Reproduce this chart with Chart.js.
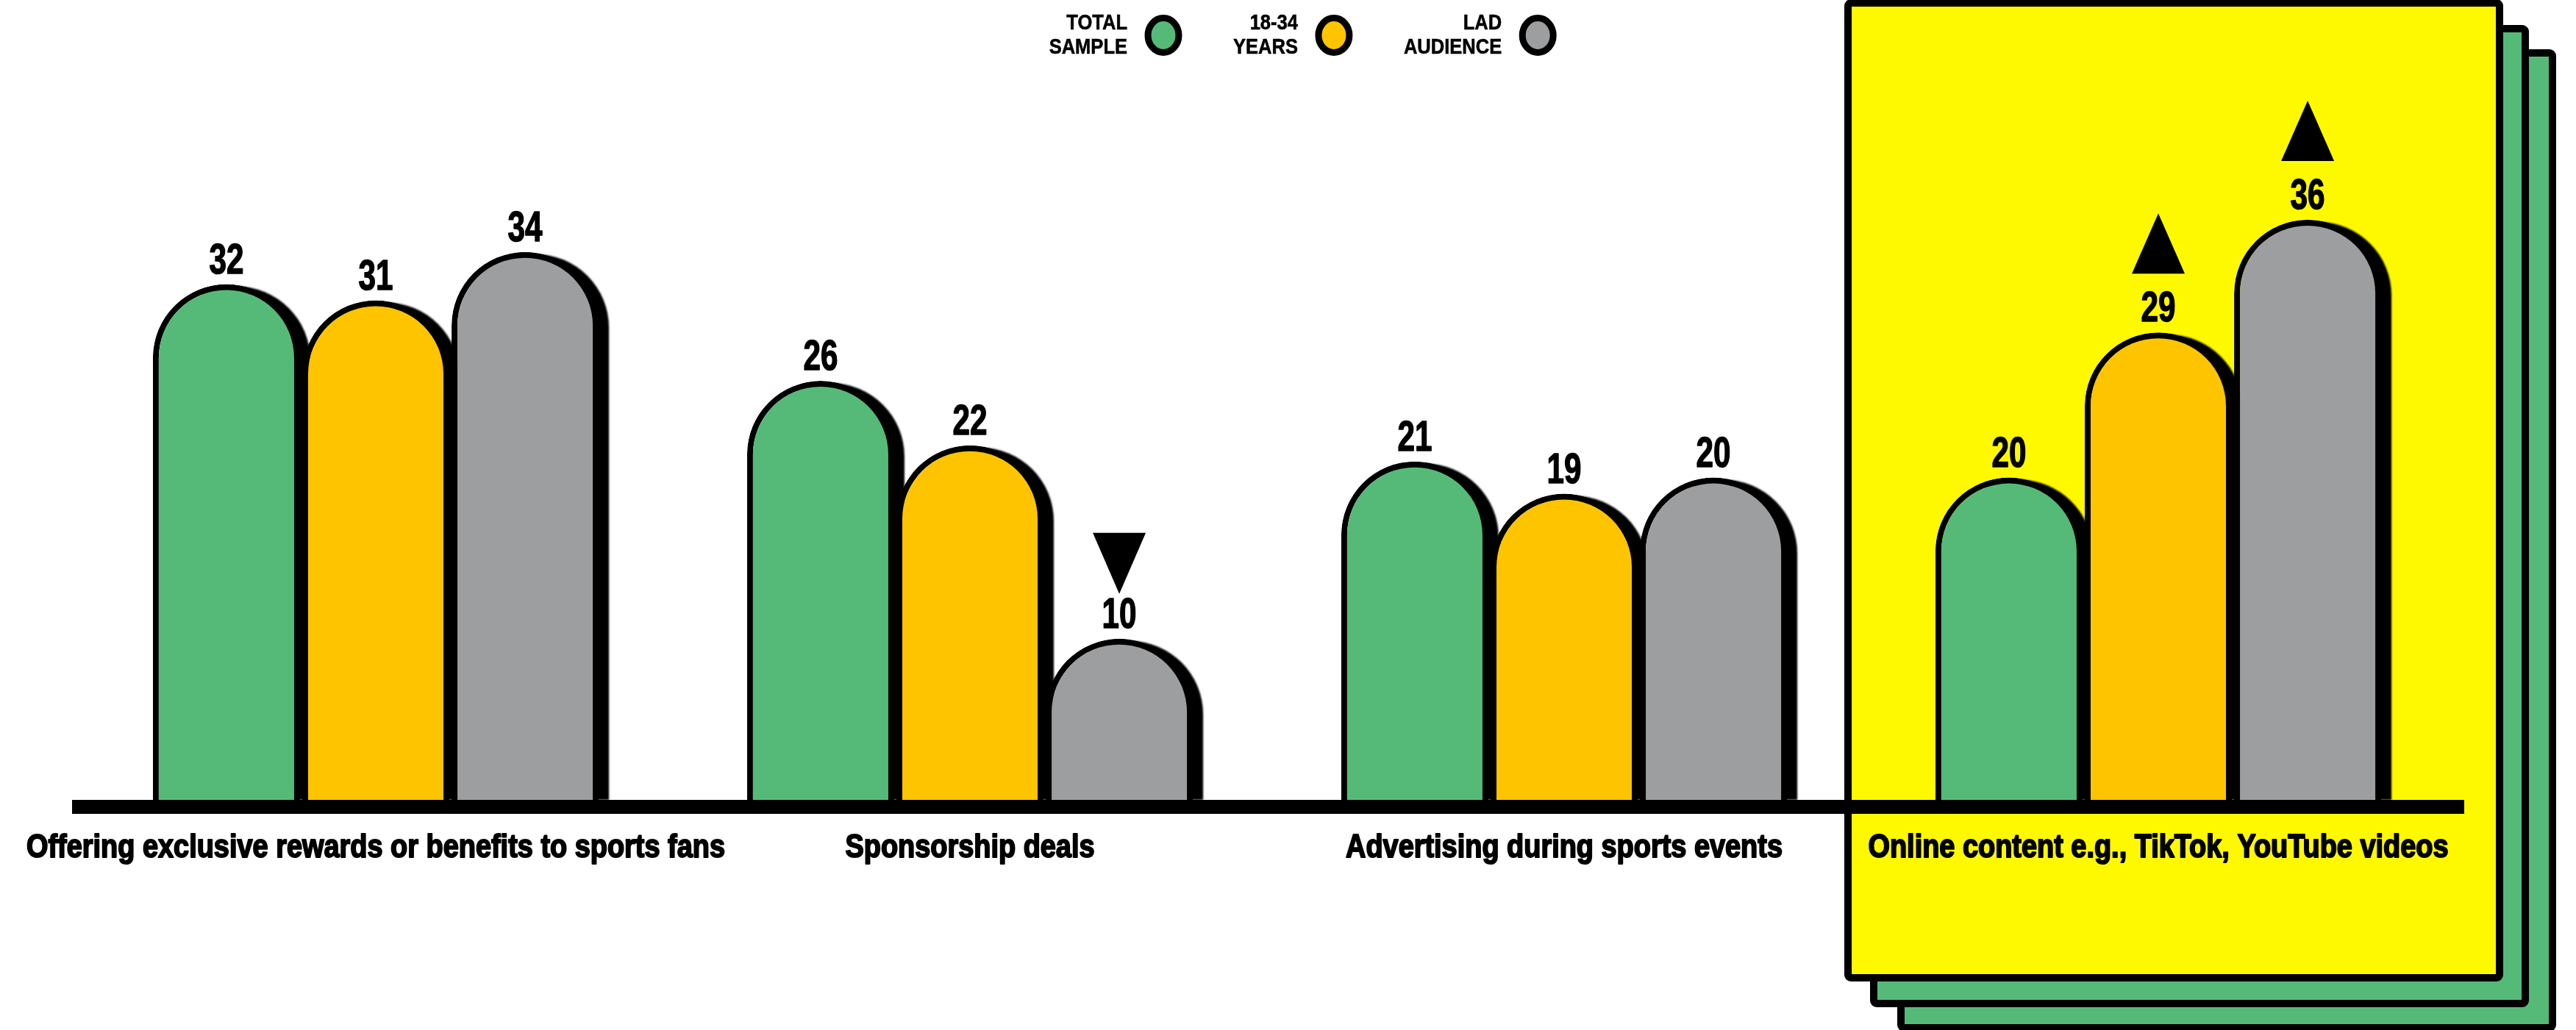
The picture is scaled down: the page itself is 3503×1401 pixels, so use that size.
<!DOCTYPE html>
<html><head><meta charset="utf-8">
<script src="https://cdn.jsdelivr.net/npm/chart.js@4.4.1/dist/chart.umd.min.js"></script>
<style>html,body{margin:0;padding:0;background:#fff;}canvas{display:block;}</style>
</head><body>
<canvas id="c" width="3503" height="1401"></canvas>
<script>
const categories = [
  'Offering exclusive rewards or benefits to sports fans',
  'Sponsorship deals',
  'Advertising during sports events',
  'Online content e.g., TikTok, YouTube videos'
];
const seriesNames = ['TOTAL SAMPLE', '18-34 YEARS', 'LAD AUDIENCE'];
const totalSample = [32, 26, 21, 20];
const youth1834 = [31, 22, 19, 29];
const ladAudience = [34, 10, 20, 36];
const totalMarks = ['', '', '', ''];
const youthMarks = ['', '', '', 'up'];
const ladMarks = ['', 'down', '', 'up'];
const highlightIndex = 3;
const yMax = 49.5;

const COLORS = ['#55BA78', '#FFC400', '#9D9EA0'];
const PANEL_YELLOW = '#FFF900';
const FONT = '"Liberation Sans", Arial, sans-serif';
const marks = [totalMarks, youthMarks, ladMarks];

function roundTopPath(ctx, l, t, r, b, rad) {
  rad = Math.min(rad, (r - l) / 2, b - t);
  ctx.beginPath();
  ctx.moveTo(l, b);
  ctx.lineTo(l, t + rad);
  ctx.arcTo(l, t, l + rad, t, rad);
  ctx.lineTo(r - rad, t);
  ctx.arcTo(r, t, r, t + rad, rad);
  ctx.lineTo(r, b);
  ctx.closePath();
}
function rrect(ctx, x, y, w, h, r) {
  ctx.beginPath();
  ctx.moveTo(x + r, y);
  ctx.arcTo(x + w, y, x + w, y + h, r);
  ctx.arcTo(x + w, y + h, x, y + h, r);
  ctx.arcTo(x, y + h, x, y, r);
  ctx.arcTo(x, y, x + w, y, r);
  ctx.closePath();
}
function condText(ctx, text, x, y, sx, stroke) {
  ctx.save();
  ctx.translate(x, y);
  ctx.scale(sx, 1);
  ctx.fillText(text, 0, 0);
  if (stroke) {
    ctx.lineWidth = stroke;
    ctx.lineJoin = 'round';
    ctx.strokeStyle = ctx.fillStyle;
    ctx.strokeText(text, 0, 0);
  }
  ctx.restore();
}

const panelPlugin = {
  id: 'panel',
  beforeDraw(chart) {
    const ctx = chart.ctx;
    const x = chart.scales.x;
    const cx = x.getPixelForValue(highlightIndex);
    const L = cx - 427, R = cx + 469, T = chart.chartArea.top - 4, B = chart.chartArea.bottom + 247;
    const draw = (dx, dy, fill) => {
      ctx.save();
      rrect(ctx, L + dx + 5, T + dy + 5, R - L - 10, B - T - 10, 4);
      ctx.fillStyle = fill; ctx.fill();
      ctx.lineWidth = 10; ctx.strokeStyle = '#000'; ctx.stroke();
      ctx.restore();
    };
    draw(72, 68, COLORS[0]);
    draw(35, 35, COLORS[0]);
    draw(0, 0, PANEL_YELLOW);
  }
};

const shadowPlugin = {
  id: 'barShadow',
  beforeDatasetsDraw(chart) {
    const ctx = chart.ctx;
    ctx.save();
    ctx.fillStyle = '#000';
    ctx.filter = 'blur(1px)';
    chart.data.datasets.forEach((ds, di) => {
      chart.getDatasetMeta(di).data.forEach(el => {
        const p = el.getProps(['x', 'y', 'base', 'width'], true);
        const l = p.x - p.width / 2 + 14, r = p.x + p.width / 2 + 14;
        roundTopPath(ctx, l, p.y + 3, r, p.base, p.width / 2);
        ctx.fill();
      });
    });
    ctx.restore();
  }
};

const overlayPlugin = {
  id: 'overlay',
  afterDatasetsDraw(chart) {
    const ctx = chart.ctx;
    const ca = chart.chartArea;
    const xs = chart.scales.x;
    const zero = chart.scales.y.getPixelForValue(0);
    ctx.save();
    ctx.fillStyle = '#000';
    ctx.fillRect(ca.left - 9, zero, (ca.right + 12) - (ca.left - 9), 19);
    // value labels and markers
    ctx.font = 'bold 57px ' + FONT;
    ctx.textAlign = 'center';
    ctx.textBaseline = 'alphabetic';
    chart.data.datasets.forEach((ds, di) => {
      const meta = chart.getDatasetMeta(di);
      meta.data.forEach((el, i) => {
        const p = el.getProps(['x', 'y'], true);
        ctx.fillStyle = '#000';
        condText(ctx, String(ds.data[i]), p.x, p.y - 15, 0.74, 1.5);
        const m = marks[di][i];
        if (m === 'up') {
          ctx.beginPath();
          ctx.moveTo(p.x, p.y - 162);
          ctx.lineTo(p.x + 36, p.y - 80);
          ctx.lineTo(p.x - 36, p.y - 80);
          ctx.closePath(); ctx.fill();
        } else if (m === 'down') {
          ctx.beginPath();
          ctx.moveTo(p.x - 36, p.y - 144);
          ctx.lineTo(p.x + 36, p.y - 144);
          ctx.lineTo(p.x, p.y - 61);
          ctx.closePath(); ctx.fill();
        }
      });
    });
    // category labels (x axis ticks)
    ctx.font = 'bold 44px ' + FONT;
    const sxCat = 950 / ctx.measureText(chart.data.labels[0]).width;
    chart.data.labels.forEach((lab, i) => {
      condText(ctx, lab, xs.getPixelForTick(i), 1166, sxCat, 2);
    });
    ctx.restore();
  },
  afterDraw(chart) {
    const ctx = chart.ctx;
    ctx.save();
    ctx.font = 'bold 29px ' + FONT;
    ctx.fillStyle = '#000';
    ctx.textAlign = 'right';
    ctx.textBaseline = 'middle';
    const sx = 0.88;
    let textRight = 1533;
    chart.data.datasets.forEach((ds, di) => {
      const name = ds.label;
      const sp = name.indexOf(' ');
      const lines = [name.slice(0, sp), name.slice(sp + 1)];
      const w = Math.max(...lines.map(s => ctx.measureText(s).width)) * sx;
      if (di > 0) textRight += w;
      ctx.fillStyle = '#000';
      condText(ctx, lines[0], textRight, 32, sx, 0.6);
      condText(ctx, lines[1], textRight, 65, sx, 0.6);
      const ccx = textRight + 49;
      ctx.beginPath();
      ctx.ellipse(ccx, 48, 21, 23.5, 0, 0, Math.PI * 2);
      ctx.fillStyle = ds.backgroundColor;
      ctx.fill();
      ctx.lineWidth = 9; ctx.strokeStyle = '#000'; ctx.stroke();
      textRight = ccx + 25 + 70;
    });
    ctx.restore();
  }
};

const mkDs = (label, data, color) => ({
  label, data,
  backgroundColor: color,
  borderColor: '#000',
  borderWidth: 8,
  borderSkipped: 'start',
  borderRadius: { topLeft: 200, topRight: 200, bottomLeft: 0, bottomRight: 0 },
  categoryPercentage: 0.754,
  barPercentage: 0.985
});

new Chart(document.getElementById('c'), {
  type: 'bar',
  data: {
    labels: categories,
    datasets: [
      mkDs(seriesNames[0], totalSample, COLORS[0]),
      mkDs(seriesNames[1], youth1834, COLORS[1]),
      mkDs(seriesNames[2], ladAudience, COLORS[2])
    ]
  },
  options: {
    responsive: false,
    animation: false,
    devicePixelRatio: 1,
    layout: { padding: { left: 107, right: 164, top: 3, bottom: 0 } },
    plugins: { legend: { display: false }, tooltip: { enabled: false } },
    scales: {
      x: {
        grid: { display: false, drawTicks: false },
        border: { display: false },
        ticks: { display: false },
        afterFit(s) { s.height = 313; }
      },
      y: { display: false, min: 0, max: yMax }
    }
  },
  plugins: [panelPlugin, shadowPlugin, overlayPlugin]
});
</script>
</body></html>
